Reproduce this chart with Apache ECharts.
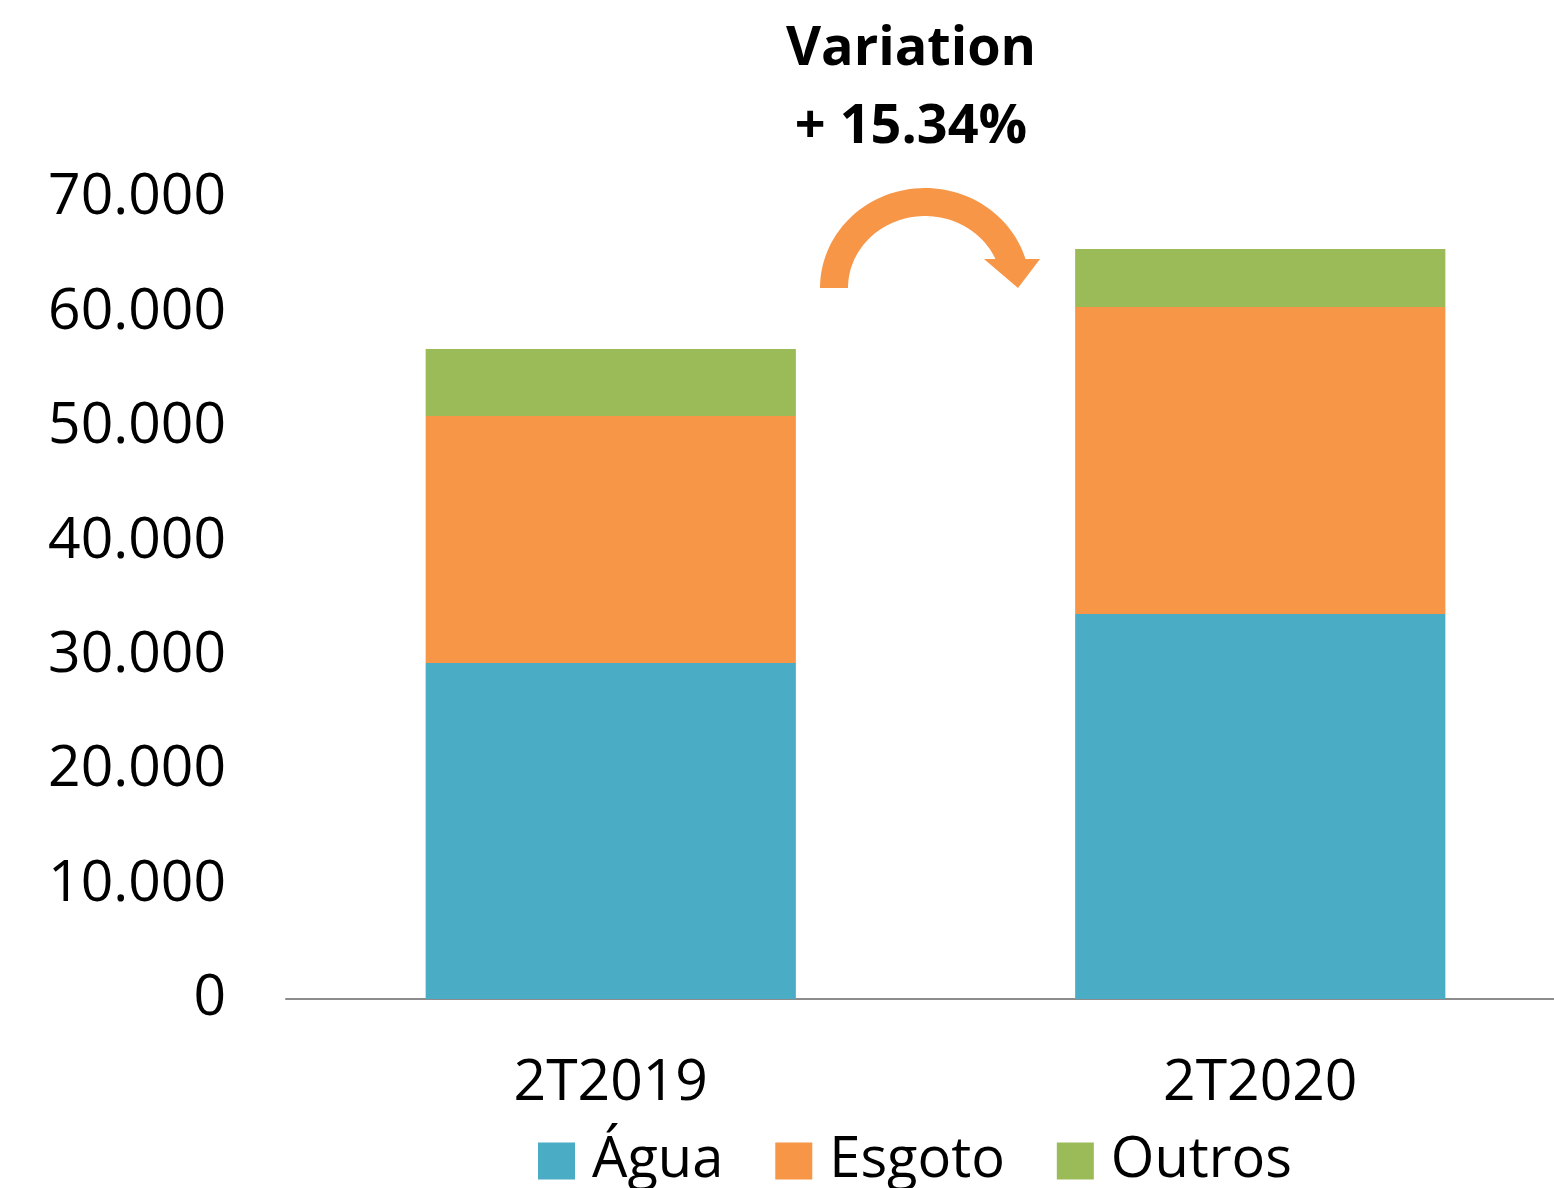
<!DOCTYPE html>
<html><head><meta charset="utf-8">
<script src="https://cdn.jsdelivr.net/npm/echarts@6/dist/echarts.min.js"></script>
<style>html,body{margin:0;padding:0;background:#fff}#c{width:1554px;height:1188px}</style>
</head><body><div id="c"></div>
<script>
const categories = ['2T2019', '2T2020'];
const agua = [29360, 33650];
const esgoto = [21590, 26830];
const outros = [5850, 5070];
const seriesNames = ['Água', 'Esgoto', 'Outros'];
const titleLines = ['Variation', '+ 15.34%'];

const FONT = '"Open Sans", "Noto Sans", sans-serif';
const chart = echarts.init(document.getElementById('c'));
function fmt(v){ return String(v).replace(/\B(?=(\d{3})+(?!\d))/g, '.'); }
const colors = ['#4BACC6', '#F79646', '#9BBB59'];

// decorative curved arrow
function arrowPoints(){
  const cx = 925, cy = 288, pts = [];
  const ro = [105, 100], ri = [77, 72];
  const endDy = -29;
  const aoEnd = Math.asin(-endDy / ro[1]);
  const aiEnd = Math.asin(-endDy / ri[1]);
  const N = 60;
  for (let i = 0; i <= N; i++) {
    const a = Math.PI - (Math.PI - aoEnd) * i / N;
    pts.push([cx + ro[0] * Math.cos(a), cy - ro[1] * Math.sin(a)]);
  }
  pts.push([1040, 259], [1018, 288], [984, 259]);
  for (let i = 0; i <= N; i++) {
    const a = aiEnd + (Math.PI - aiEnd) * i / N;
    pts.push([cx + ri[0] * Math.cos(a), cy - ri[1] * Math.sin(a)]);
  }
  return pts;
}

chart.setOption({
  animation: false,
  color: colors,
  title: {
    text: titleLines.join('\n'),
    left: 906, top: 6, textAlign: 'center',
    textStyle: { fontFamily: FONT, fontWeight: 'bold', fontSize: 54, color: '#000', lineHeight: 78 }
  },
  legend: {
    data: seriesNames, left: 533, top: 1128,
    itemWidth: 37, itemHeight: 37, itemGap: 52,
    icon: 'rect',
    textStyle: { fontFamily: FONT, fontSize: 56, color: '#000', padding: [0, 0, 0, 12] }
  },
  grid: { left: 286, right: -31, top: 198, bottom: 189, outerBoundsMode: 'none' },
  xAxis: {
    type: 'category', data: categories,
    axisLine: { lineStyle: { color: '#8c8c8c', width: 2 } },
    axisTick: { show: false },
    axisLabel: { fontFamily: FONT, fontSize: 57, color: '#000', margin: 56 }
  },
  yAxis: {
    type: 'value', min: 0, max: 70000, interval: 10000,
    splitLine: { show: false },
    axisLine: { show: false }, axisTick: { show: false },
    axisLabel: { fontFamily: FONT, fontSize: 57, color: '#000', margin: 60, formatter: fmt }
  },
  series: [
    { name: seriesNames[0], type: 'bar', stack: 't', data: agua, barWidth: '57%' },
    { name: seriesNames[1], type: 'bar', stack: 't', data: esgoto },
    { name: seriesNames[2], type: 'bar', stack: 't', data: outros }
  ],
  graphic: [{
    type: 'polygon',
    shape: { points: arrowPoints() },
    style: { fill: '#F79646' }
  }]
});
</script></body></html>
